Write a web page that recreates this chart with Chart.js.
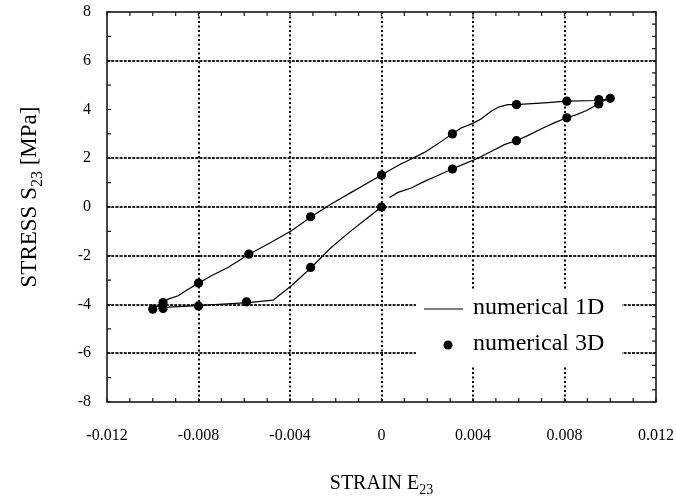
<!DOCTYPE html>
<html>
<head>
<meta charset="utf-8">
<script src="https://cdn.jsdelivr.net/npm/chart.js@4.4.1/dist/chart.umd.min.js"></script>
<style>
  html, body { margin: 0; padding: 0; background: #fff; }
  canvas { display: block; }
</style>
</head>
<body>
<canvas id="chart" width="676" height="501"></canvas>
<script>
// Axis ticks
const xTickValues = [-0.012, -0.008, -0.004, 0, 0.004, 0.008, 0.012];
const xTickLabels = ['-0.012', '-0.008', '-0.004', '0', '0.004', '0.008', '0.012'];
const yTickValues = [-8, -6, -4, -2, 0, 2, 4, 6, 8];
const yTickLabels = ['-8', '-6', '-4', '-2', '0', '2', '4', '6', '8'];

// Axis titles: main text, subscript, trailing text
const xTitleParts = ['STRAIN E', '23', ''];
const yTitleParts = ['STRESS S', '23', ' [MPa]'];

// Series names
const seriesNames = ['numerical 1D', 'numerical 3D'];

// 1D model: strain / stress along the cycle
const strain1D = [
  0.00035, 0.00072, 0.0013, 0.00188, 0.00246, 0.00309, 0.00362, 0.00414, 0.00479, 0.00537,
  0.00588, 0.00639, 0.00697, 0.00755, 0.0081, 0.0085, 0.00894, 0.0093, 0.00955, 0.00985,
  0.00946, 0.0081, 0.00755, 0.00712, 0.00639, 0.00588, 0.00552, 0.00515, 0.00479, 0.00435,
  0.00399, 0.00348, 0.00309, 0.00246, 0.00188, 0.0013, 0.00072, 0.0, -0.00132, -0.0022,
  -0.00307, -0.00394, -0.00482, -0.00583, -0.00671, -0.00744, -0.00802, -0.00845, -0.00889, -0.00933,
  -0.00955, -0.00984, -0.00953, -0.00802, -0.00583, -0.00474, -0.00394, -0.00307, -0.0022, -0.00132,
  -0.00059, 0.0
];
const stress1D = [
  0.39, 0.60, 0.78, 1.05, 1.29, 1.56, 1.77, 1.97, 2.28, 2.56,
  2.72, 2.93, 3.20, 3.45, 3.66, 3.78, 3.95, 4.13, 4.28, 4.42,
  4.37, 4.34, 4.30, 4.27, 4.23, 4.20, 4.20, 4.11, 3.93, 3.61,
  3.43, 3.24, 3.00, 2.59, 2.24, 1.97, 1.70, 1.31, 0.60, 0.12,
  -0.40, -0.97, -1.45, -1.96, -2.48, -2.82, -3.14, -3.37, -3.64, -3.78,
  -3.92, -4.07, -4.12, -4.05, -3.92, -3.82, -3.23, -2.48, -1.66, -0.97,
  -0.43, 0.0
];

// 3D model: sampled states
const strain3D = [-0.0100, -0.00955, -0.00955, -0.0080, -0.0080, -0.0058, -0.0059, -0.0031, -0.0031, 0.0,
                  0.0, 0.0031, 0.0031, 0.0059, 0.0059, 0.0081, 0.0081, 0.0095, 0.0095, 0.0100];
const stress3D = [-4.19, -4.16, -3.92, -4.06, -3.12, -1.93, -3.89, -0.40, -2.48, 1.31,
                  0.0, 3.00, 1.56, 4.20, 2.72, 4.34, 3.66, 4.41, 4.23, 4.46];

// Grid lines left out (frame edges and the +4 level)
const xNoGrid = [-0.012, 0.012];
const yNoGrid = [-8, 4, 8];

const SERIF = '"Liberation Serif", "Times New Roman", serif';

function toPoints(xs, ys) { return xs.map((x, i) => ({ x: x, y: ys[i] })); }

// Draws a string with a subscripted part, centred on (0,0) of the current transform
function drawSubText(ctx, parts, size) {
  const mainFont = size + 'px ' + SERIF;
  const subFont = Math.round(size * 0.68) + 'px ' + SERIF;
  ctx.font = mainFont; const w0 = ctx.measureText(parts[0]).width; const w2 = ctx.measureText(parts[2]).width;
  ctx.font = subFont; const w1 = ctx.measureText(parts[1]).width;
  let x = -(w0 + w1 + w2) / 2;
  ctx.textAlign = 'left';
  ctx.textBaseline = 'alphabetic';
  ctx.font = mainFont; ctx.fillText(parts[0], x, 0); x += w0;
  ctx.font = subFont; ctx.fillText(parts[1], x, size * 0.25); x += w1;
  ctx.font = mainFont; ctx.fillText(parts[2], x, 0);
}

const framePlugin = {
  id: 'frame',
  afterDatasetsDraw(chart) {
    const { ctx, chartArea: a, scales: { x, y } } = chart;
    ctx.save();

    // Legend panel
    const lx = a.left + 309, ly = a.top + 278;
    ctx.fillStyle = '#fff';
    ctx.fillRect(lx, ly, 206, 77);
    ctx.strokeStyle = '#000';
    ctx.lineWidth = 1.2;
    ctx.beginPath();
    ctx.moveTo(lx + 8, ly + 19); ctx.lineTo(lx + 47, ly + 19);
    ctx.stroke();
    ctx.fillStyle = '#000';
    ctx.beginPath();
    ctx.arc(lx + 32, ly + 55, 4.5, 0, Math.PI * 2);
    ctx.fill();
    ctx.font = '24px ' + SERIF;
    ctx.textAlign = 'left';
    ctx.textBaseline = 'middle';
    ctx.fillText(chart.data.datasets[1].label, lx + 57, ly + 18);
    ctx.fillText(chart.data.datasets[0].label, lx + 57, ly + 54);

    // Frame
    ctx.strokeStyle = '#1a1a1a';
    ctx.lineWidth = 1.6;
    ctx.strokeRect(a.left, a.top, a.right - a.left, a.bottom - a.top);

    // Inward tick marks
    ctx.lineWidth = 1.2;
    ctx.beginPath();
    for (let k = -12; k <= 12; k++) {
      const px = x.getPixelForValue(k * 0.001);
      ctx.moveTo(px, a.bottom); ctx.lineTo(px, a.bottom - 4);
      ctx.moveTo(px, a.top); ctx.lineTo(px, a.top + 4);
    }
    for (let k = -8; k <= 8; k++) {
      const py = y.getPixelForValue(k);
      ctx.moveTo(a.left, py); ctx.lineTo(a.left + 4, py);
    }
    for (let k = -16; k <= 16; k++) {
      const py = y.getPixelForValue(k * 0.5);
      ctx.moveTo(a.right, py); ctx.lineTo(a.right - 4, py);
    }
    ctx.stroke();
    ctx.restore();
  },
  afterDraw(chart) {
    const { ctx, chartArea: a } = chart;
    ctx.save();
    ctx.fillStyle = '#000';
    ctx.translate((a.left + a.right) / 2, 489);
    drawSubText(ctx, xTitleParts, 20);
    ctx.restore();
    ctx.save();
    ctx.fillStyle = '#000';
    ctx.translate(36, 197);
    ctx.rotate(-Math.PI / 2);
    drawSubText(ctx, yTitleParts, 23);
    ctx.restore();
  }
};

new Chart(document.getElementById('chart'), {
  type: 'scatter',
  data: {
    datasets: [
      {
        label: seriesNames[1],
        data: toPoints(strain3D, stress3D),
        showLine: false,
        pointRadius: 4.6,
        pointBackgroundColor: '#000',
        pointBorderWidth: 0,
        order: 0
      },
      {
        label: seriesNames[0],
        data: toPoints(strain1D, stress1D),
        showLine: true,
        borderColor: '#000',
        borderWidth: 1.2,
        pointRadius: 0,
        tension: 0,
        order: 1
      }
    ]
  },
  options: {
    responsive: false,
    animation: false,
    devicePixelRatio: 1,
    layout: { padding: { top: 12, right: 20, left: 0, bottom: 0 } },
    plugins: { legend: { display: false }, tooltip: { enabled: false } },
    scales: {
      x: {
        type: 'linear',
        min: -0.012, max: 0.012,
        afterBuildTicks: s => { s.ticks = xTickValues.map(v => ({ value: v })); },
        afterFit: s => { s.height = 99; s.paddingLeft = 0; s.paddingRight = 0; },
        ticks: {
          padding: 24,
          color: '#000',
          font: { family: SERIF, size: 16 },
          maxRotation: 0,
          callback: (v, i) => xTickLabels[i]
        },
        grid: {
          drawTicks: false,
          lineWidth: 2,
          color: c => (c.tick && xNoGrid.includes(c.tick.value)) ? 'rgba(0,0,0,0)' : '#000'
        },
        border: { display: false, dash: [2, 2.5] }
      },
      y: {
        type: 'linear',
        min: -8, max: 8,
        afterBuildTicks: s => { s.ticks = yTickValues.map(v => ({ value: v })); },
        afterFit: s => { s.width = 107; s.paddingTop = 0; s.paddingBottom = 0; },
        ticks: {
          padding: 16,
          color: '#000',
          font: { family: SERIF, size: 16 },
          callback: (v, i) => yTickLabels[i]
        },
        grid: {
          drawTicks: false,
          lineWidth: 2,
          color: c => (c.tick && yNoGrid.includes(c.tick.value)) ? 'rgba(0,0,0,0)' : '#222'
        },
        border: { display: false, dash: [3, 1.2] }
      }
    }
  },
  plugins: [framePlugin]
});
</script>
</body>
</html>
